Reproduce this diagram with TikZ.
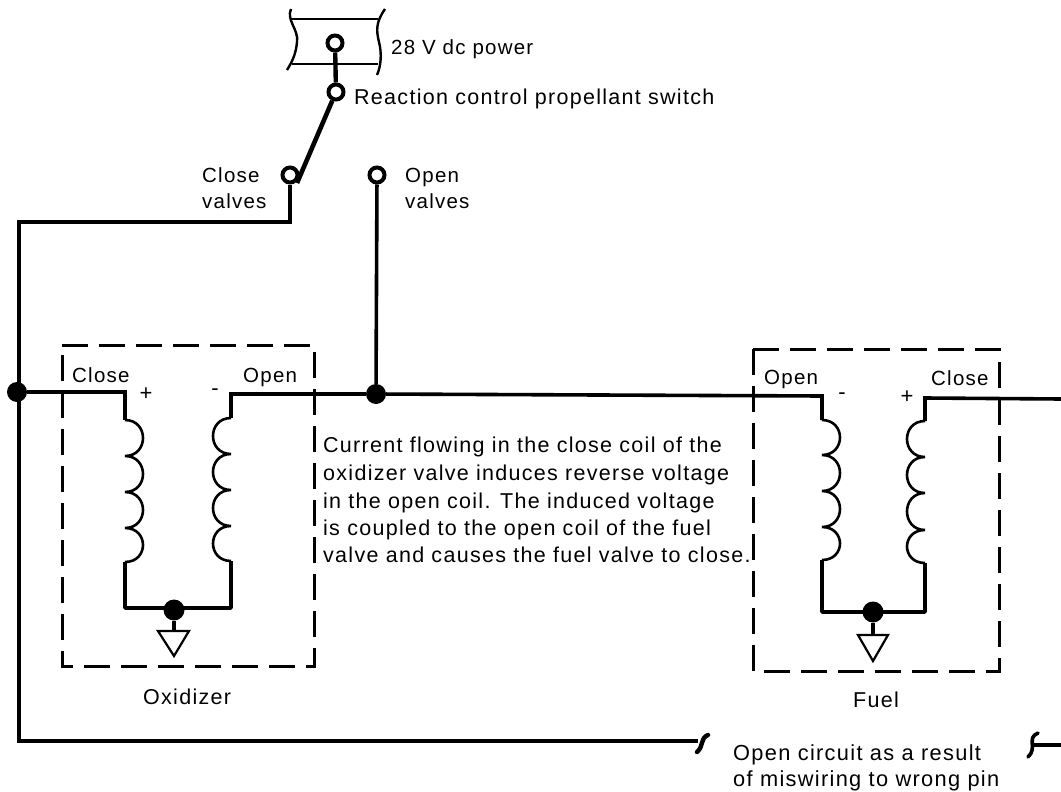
\documentclass[tikz,border=0pt]{standalone}
\usepackage{fontspec}
\setmainfont[LetterSpace=6]{Liberation Sans}
\begin{document}
\begin{tikzpicture}[x=1pt,y=-1pt,
  wire/.style={line width=3.6pt,line join=miter},
  coilline/.style={line width=2.6pt},
  boxdash/.style={line width=3pt,dash pattern=on 26pt off 11pt},
  fuse/.style={line width=2.4pt},
  term/.style={circle,draw,fill=white,line width=4pt,minimum size=15pt,inner sep=0pt},
  junction/.style={circle,fill=black,inner sep=0pt},
  gnd/.style={line width=2.2pt,line join=miter,fill=white},
  lbl/.style={anchor=base west,inner sep=0pt,font=\fontsize{20.5}{24}\selectfont},
  body/.style={anchor=base west,inner sep=0pt,font=\fontsize{21.5}{24}\selectfont},
  note/.style={anchor=base west,inner sep=0pt,font=\fontsize{21.8}{24}\selectfont},
  sgn/.style={inner sep=0pt,font=\fontsize{22}{24}\selectfont}]
\useasboundingbox (0,0) rectangle (1061,792);
% power bus
\draw[fuse] (290,19) -- (378,19);
\draw[fuse] (292,64) -- (378,64);
\draw[fuse] (291,9) .. controls (286,20) and (299,30) .. (297,42) .. controls (296,54) and (292,62) .. (287,70);
\draw[fuse] (385,9) .. controls (376,22) and (376,30) .. (379,42) .. controls (382,54) and (381,66) .. (377,75);
% terminals
\coordinate (blade) at (297,183);
\coordinate (c1) at (290,222);
\coordinate (c2) at (19,222);
\coordinate (c3) at (19,741);
\coordinate (brk) at (698,741);
\node[term] (pw) at (335,43) {};
\node[term] (sw) at (336,92) {};
\node[term] (cl) at (290,175) {};
\node[term] (op) at (377,175) {};
\node[junction,minimum size=20pt] (j1) at (17,392) {};
\node[junction,minimum size=20pt] (j2) at (376,394) {};
% switch
\draw[line width=4.4pt] (pw) -- (sw);
\draw[line width=4.6pt] (sw) -- (blade);
% wires
\draw[wire] (cl) -- (c1) -- (c2) -- (c3) -- (brk);
\draw[wire] (op) -- (j2);
% oxidizer
\coordinate (oa) at (125,392);
\coordinate (ob) at (125,420);
\coordinate (oc) at (125,562);
\coordinate (od) at (125,608);
\coordinate (oe) at (231,608);
\coordinate (of) at (231,561);
\coordinate (og) at (231,418);
\coordinate (oh) at (231,394);
\node[junction,minimum size=21pt] (og1) at (174,610) {};
\draw[wire] (j1) -- (oa) -- (ob);
\draw[coilline] (ob) .. controls +(24,0) and (149,456) .. (125,456)
  .. controls +(24,0) and (149,492) .. (125,492)
  .. controls +(24,0) and (149,528) .. (125,528)
  .. controls +(24,0) and (149,562) .. (oc);
\draw[coilline] (og) .. controls +(-24,0) and (207,454) .. (231,454)
  .. controls +(-24,0) and (207,490) .. (231,490)
  .. controls +(-24,0) and (207,526) .. (231,526)
  .. controls +(-24,0) and (207,561) .. (of);
\draw[wire,line join=round] (oc) -- (od) -- (oe) -- (of);
\draw[wire] (og) -- (oh) -- (j2);
\coordinate (ogs) at (174,631);
\draw[wire] (og1) -- (ogs);
\draw[gnd] (158,631) -- (189,631) -- (174,656) -- cycle;
\draw[boxdash] (62,345) -- (314,345) -- (314,666) -- (62,666) -- cycle;
% fuel
\coordinate (fa) at (822,396);
\coordinate (fb) at (822,420);
\coordinate (fc) at (822,560);
\coordinate (fd) at (822,612);
\coordinate (fe) at (925,612);
\coordinate (ff) at (925,563);
\coordinate (fg) at (925,421);
\coordinate (fh) at (925,398);
\coordinate (fi) at (1061,399);
\node[junction,minimum size=21pt] (fg1) at (873,612) {};
\draw[wire] (j2) -- (fa) -- (fb);
\draw[coilline] (fb) .. controls +(24,0) and (846,455) .. (822,455)
  .. controls +(24,0) and (846,491) .. (822,491)
  .. controls +(24,0) and (846,527) .. (822,527)
  .. controls +(24,0) and (846,560) .. (fc);
\draw[coilline] (fg) .. controls +(-24,0) and (901,457) .. (925,457)
  .. controls +(-24,0) and (901,493) .. (925,493)
  .. controls +(-24,0) and (901,530) .. (925,530)
  .. controls +(-24,0) and (901,563) .. (ff);
\draw[wire,line join=round] (fc) -- (fd) -- (fe) -- (ff);
\draw[wire] (fg) -- (fh) -- (fi);
\coordinate (fgs) at (873,635);
\draw[wire] (fg1) -- (fgs);
\draw[gnd] (858,635) -- (888,635) -- (873,661) -- cycle;
\draw[boxdash] (753,349) -- (999,349) -- (999,671) -- (753,671) -- cycle;
% broken line
\draw[line width=4.4pt,line cap=round] (708,735) .. controls (700,738) and (704,746) .. (697,752);
\coordinate (r1) at (1033,745);
\coordinate (r2) at (1061,745);
\draw[wire] (r1) -- (r2);
\draw[line width=3.6pt,line cap=round] (1038,733) .. controls (1026,738) and (1038,748) .. (1028,757);
% labels
\node[lbl] (t1) at (391,55) {28 V dc power};
\node[body] (t2) at (354,105) {Reaction control propellant switch};
\node[lbl] (t3) at (202,182) {Close};
\node[lbl] (t4) at (202,208) {valves};
\node[lbl] (t5) at (405,182) {Open};
\node[lbl] (t6) at (405,208) {valves};
\node[lbl] (t7) at (72,382) {Close};
\node[lbl] (t8) at (243,382) {Open};
\node[lbl] (t9) at (764,384) {Open};
\node[lbl] (t10) at (931,385) {Close};
\node[sgn] (s1) at (146,394) {+};
\node[sgn] (s2) at (215,392) {-};
\node[sgn] (s3) at (842,396) {-};
\node[sgn] (s4) at (907,397) {+};
\node[body] (b1) at (323,452) {Current flowing in the close coil of the};
\node[body] (b2) at (323,480) {oxidizer valve induces reverse voltage};
\node[body] (b3) at (323,508) {in the open coil. The induced voltage};
\node[body] (b4) at (323,535) {is coupled to the open coil of the fuel};
\node[body] (b5) at (323,562) {valve and causes the fuel valve to close.};
\node[body] (t11) at (143,704) {Oxidizer};
\node[body] (t12) at (853,707) {Fuel};
\node[note] (t13) at (733,760) {Open circuit as a result};
\node[note] (t14) at (733,786) {of miswiring to wrong pin};
\end{tikzpicture}
\end{document}
